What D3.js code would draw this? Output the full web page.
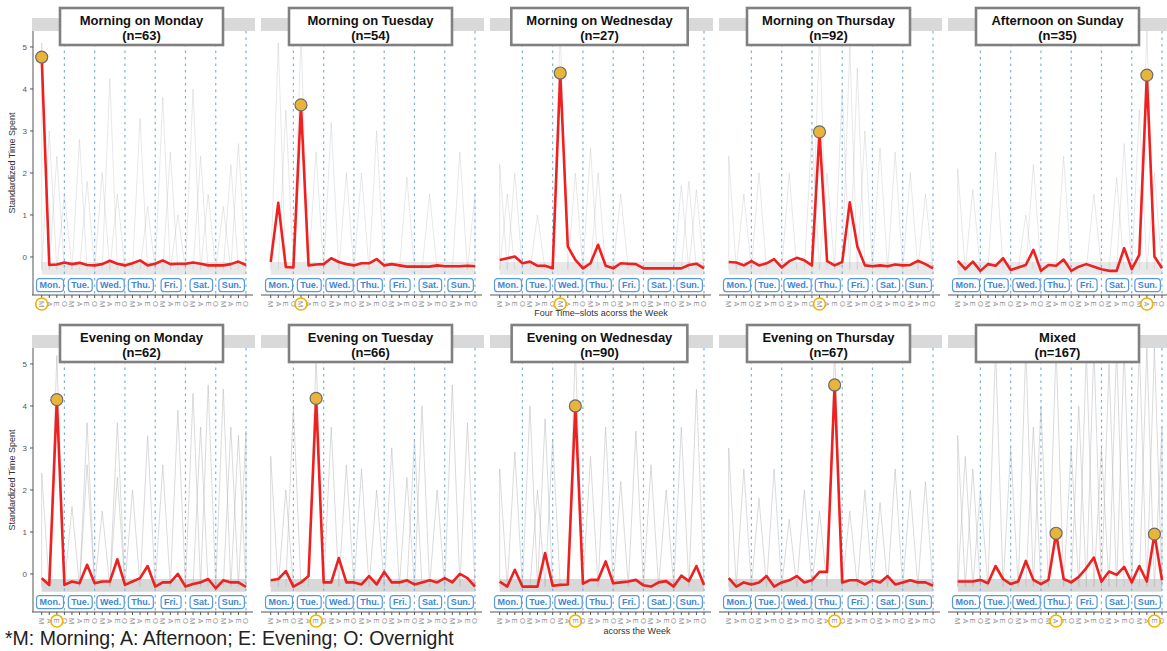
<!DOCTYPE html>
<html>
<head>
<meta charset="utf-8">
<script src="https://d3js.org/d3.v7.min.js"></script>
<style>
  body { margin: 0; background: #fff; }
  svg { font-family: "Liberation Sans", Arial, sans-serif; }
</style>
</head>
<body>
<svg id="chart" width="1167" height="651"></svg>
<script>
// ---- data ----
var slotLabels = ["M", "A", "E", "O"];
var dayLabels = ["Mon.", "Tue.", "Wed.", "Thu.", "Fri.", "Sat.", "Sun."];
var yTicks = [0, 1, 2, 3, 4, 5];

var panelTitles = ["Morning on Monday", "Morning on Tuesday", "Morning on Wednesday", "Morning on Thursday", "Afternoon on Sunday",
                   "Evening on Monday", "Evening on Tuesday", "Evening on Wednesday", "Evening on Thursday", "Mixed"];
var panelN = [63, 54, 27, 92, 35, 62, 66, 90, 67, 167];

// cluster means (red lines), 28 slots = 7 days x 4 slots
var morningMon = [4.76,-0.19,-0.18,-0.13,-0.17,-0.14,-0.19,-0.2,-0.17,-0.09,-0.16,-0.2,-0.15,-0.08,-0.2,-0.16,-0.08,-0.17,-0.16,-0.16,-0.13,-0.16,-0.2,-0.2,-0.2,-0.17,-0.11,-0.19];
var morningTue = [-0.12,1.29,-0.24,-0.25,3.62,-0.2,-0.18,-0.17,-0.03,-0.12,-0.17,-0.2,-0.15,-0.15,-0.05,-0.2,-0.17,-0.2,-0.23,-0.23,-0.23,-0.23,-0.2,-0.22,-0.22,-0.22,-0.21,-0.22];
var morningWed = [-0.07,-0.03,0.01,-0.15,-0.11,-0.21,-0.21,-0.27,4.38,0.25,-0.07,-0.27,-0.15,0.29,-0.21,-0.27,-0.15,-0.16,-0.17,-0.27,-0.27,-0.27,-0.27,-0.27,-0.27,-0.19,-0.16,-0.27];
var morningThu = [-0.12,-0.13,-0.2,-0.1,-0.2,-0.15,-0.05,-0.25,-0.1,-0.02,-0.08,-0.2,2.98,-0.1,-0.2,-0.12,1.3,0.25,-0.2,-0.22,-0.2,-0.22,-0.18,-0.2,-0.19,-0.09,-0.17,-0.27];
var afternoonSun = [-0.09,-0.29,-0.11,-0.33,-0.17,-0.21,-0.03,-0.31,-0.25,-0.19,0.17,-0.33,-0.19,-0.21,-0.06,-0.33,-0.23,-0.17,-0.23,-0.29,-0.33,-0.33,0.21,-0.29,0.05,4.33,0.01,-0.27];
var eveningMon = [-0.1,-0.26,4.15,-0.26,-0.18,-0.22,0.22,-0.22,-0.18,-0.18,0.35,-0.26,-0.18,-0.1,0.19,-0.3,-0.2,-0.2,0.0,-0.3,-0.24,-0.2,-0.12,-0.34,-0.15,-0.2,-0.2,-0.31];
var eveningTue = [-0.15,-0.12,0.07,-0.3,-0.2,-0.05,4.18,-0.2,-0.2,0.38,-0.2,-0.2,-0.25,-0.05,-0.25,0.05,-0.2,-0.2,-0.15,-0.25,-0.2,-0.15,-0.2,-0.1,-0.2,0.0,-0.1,-0.3];
var eveningWed = [-0.18,-0.3,0.1,-0.3,-0.3,-0.3,0.5,-0.28,-0.26,-0.25,4.0,-0.23,-0.14,-0.14,0.3,-0.22,-0.2,-0.18,-0.14,-0.27,-0.3,-0.2,-0.17,-0.3,-0.04,-0.17,0.19,-0.26];
var eveningThu = [-0.1,-0.3,-0.2,-0.25,-0.2,-0.05,-0.3,-0.2,-0.15,-0.05,-0.2,-0.15,0.05,0.05,4.5,-0.2,-0.15,-0.15,-0.25,-0.15,-0.2,-0.05,-0.25,-0.2,-0.15,-0.2,-0.2,-0.28];
var mixed = [-0.18,-0.18,-0.18,-0.14,-0.22,0.19,-0.12,-0.24,-0.18,0.31,-0.14,-0.24,-0.14,0.97,-0.12,-0.2,-0.07,0.14,0.39,-0.18,0.06,-0.02,0.17,-0.2,0.19,-0.18,0.95,-0.15];
var panelMeans = [morningMon, morningTue, morningWed, morningThu, afternoonSun, eveningMon, eveningTue, eveningWed, eveningThu, mixed];

// slots marked with a dot / circled tick
var peakSlots = [[0], [4], [8], [12], [25], [2], [6], [10], [14], [13, 26]];

// individual members: [slot, peak value] of the grey spikes
var memberSpikes = [
  [[0,5.1],[1,3.0],[2,2.4],[3,1.5],[5,2.8],[6,1.8],[8,2.0],[9,4.25],[10,1.5],[13,3.3],[14,1.2],[16,3.8],[17,2.5],[18,1.0],[20,4.0],[21,2.4],[22,1.5],[24,1.2],[25,2.2],[26,2.7]],
  [[1,5.1],[2,3.5],[4,5.3],[6,2.5],[8,3.2],[10,2.0],[12,2.0],[14,3.0],[18,1.9],[21,1.5],[25,2.5],[27,1.5]],
  [[0,2.2],[1,1.5],[2,2.0],[5,1.0],[8,5.4],[10,2.0],[12,2.6],[13,2.0],[16,1.5],[24,1.7],[25,1.8],[26,1.6]],
  [[0,2.4],[2,1.5],[4,2.0],[8,2.0],[11,3.0],[12,5.4],[13,2.0],[15,4.0],[16,5.0],[17,4.5],[18,3.0],[20,2.6],[22,2.5],[24,2.0],[26,1.5]],
  [[0,2.1],[2,1.6],[5,2.5],[9,1.0],[10,2.2],[14,2.4],[18,1.5],[21,1.9],[22,2.7],[24,3.5],[25,5.4],[26,2.0]],
  [[0,2.4],[2,5.2],[4,1.6],[6,2.6],[6,3.6],[8,1.5],[10,3.6],[10,2.3],[12,2.0],[14,3.3],[16,2.6],[18,3.9],[20,4.3],[21,3.5],[22,4.5],[24,4.4],[25,3.5],[26,3.3],[27,3.4]],
  [[0,2.8],[2,2.0],[3,4.0],[6,5.2],[8,3.5],[10,2.6],[12,2.5],[14,2.0],[16,3.0],[18,2.3],[19,3.2],[20,4.0],[22,2.0],[24,4.5],[26,3.6]],
  [[0,2.5],[2,2.9],[4,4.0],[5,2.0],[6,3.7],[7,3.2],[10,5.4],[12,2.8],[14,3.5],[16,2.2],[18,3.4],[20,2.6],[22,2.0],[24,3.5],[26,4.4]],
  [[0,3.0],[2,2.5],[4,1.8],[6,2.5],[8,1.3],[10,2.0],[12,1.5],[14,5.4],[16,1.5],[18,2.0],[20,1.7],[22,2.5],[24,2.0],[26,2.2]],
  [[0,3.3],[1,2.8],[2,2.5],[3,2.0],[5,5.4],[7,3.0],[9,5.4],[10,3.5],[11,4.0],[13,5.4],[15,3.0],[16,4.0],[17,5.3],[18,5.4],[19,3.0],[20,5.0],[21,5.4],[22,5.4],[24,5.4],[25,5.4],[26,5.4],[27,3.5]]
];
var memberBase = -0.3;

// ---- layout ----
var svg = d3.select("#chart");
var panelLeft = 32, panelStep = 229, panelW = 221;
var rowTop = 18, rowStep = 317;

var x = d3.scaleLinear().domain([0, 27]).range([9.7, 214]);
var y = d3.scaleLinear().domain([-0.905, 5.38]).range([277, 13]);

svg.append("defs").append("clipPath").attr("id", "plotclip")
  .append("rect").attr("x", 0).attr("y", 13).attr("width", panelW).attr("height", 264);

var line = d3.line().x(function(d) { return x(d[0]); }).y(function(d) { return y(d[1]); });

panelTitles.forEach(function(title, p) {
  var col = p % 5, row = Math.floor(p / 5);
  var g = svg.append("g")
    .attr("transform", "translate(" + (panelLeft + col * panelStep) + "," + (rowTop + row * rowStep) + ")");

  // facet strip
  g.append("rect").attr("x", 0).attr("y", 0).attr("width", panelW + 2).attr("height", 13).attr("fill", "#d9d9d9");

  var plot = g.append("g").attr("clip-path", "url(#plotclip)");

  // dense grey band of members near baseline
  plot.append("path")
    .datum(d3.range(28))
    .attr("d", d3.area().x(function(i) { return x(i); }).y0(y(-0.42)).y1(y(-0.12)))
    .attr("fill", row == 0 ? "#e8e8e8" : "#d8d8d8");

  // grey member spikes
  memberSpikes[p].forEach(function(s) {
    var pts = [[Math.max(0, s[0] - 1), memberBase], [s[0], s[1]], [Math.min(27, s[0] + 1), memberBase]];
    plot.append("path").attr("d", line(pts))
      .attr("fill", "none").attr("stroke", "#b5b5b5").attr("stroke-width", 0.9)
      .attr("stroke-opacity", row == 0 ? 0.35 : 0.55);
  });

  // dashed day separators
  d3.range(3, 28, 4).forEach(function(i) {
    plot.append("line").attr("x1", x(i)).attr("x2", x(i)).attr("y1", 13).attr("y2", 277)
      .attr("stroke", "#7fb0e0").attr("stroke-width", 1.2).attr("stroke-dasharray", "2.5,4");
  });

  // mean line
  var means = panelMeans[p].map(function(v, i) { return [i, v]; });
  plot.append("path").attr("d", line(means))
    .attr("fill", "none").attr("stroke", "#ee2020").attr("stroke-width", 2.6).attr("stroke-linejoin", "round");

  peakSlots[p].forEach(function(i) {
    g.append("circle").attr("cx", x(i)).attr("cy", y(panelMeans[p][i])).attr("r", 6)
      .attr("fill", "#e8b53a").attr("stroke", "#6b6b6b").attr("stroke-width", 1.2);
  });

  // day boxes
  dayLabels.forEach(function(d, k) {
    var dg = g.append("g").attr("transform", "translate(" + x(4 * k + 1.1) + "," + y(-0.67) + ")");
    var t = dg.append("text").attr("text-anchor", "middle").attr("dy", "0.35em")
      .attr("font-size", 9).attr("font-weight", "bold").attr("fill", "#3f86cf").text(d);
    var w = t.node().getComputedTextLength() + 6;
    dg.insert("rect", "text").attr("x", -w / 2).attr("y", -6.5).attr("width", w).attr("height", 13).attr("rx", 3)
      .attr("fill", "#fff").attr("stroke", "#5a9ad8").attr("stroke-width", 1.2);
  });

  // x axis
  g.append("line").attr("x1", 0).attr("x2", panelW).attr("y1", 277).attr("y2", 277)
    .attr("stroke", "#555").attr("stroke-width", 1);
  d3.range(28).forEach(function(i) {
    g.append("line").attr("x1", x(i)).attr("x2", x(i)).attr("y1", 277).attr("y2", 280).attr("stroke", "#555");
    g.append("text").attr("transform", "translate(" + x(i) + ",286) rotate(90)")
      .attr("text-anchor", "middle").attr("dy", "0.35em").attr("font-size", 7.5).attr("fill", "#999")
      .text(slotLabels[i % 4]);
  });
  peakSlots[p].forEach(function(i) {
    g.append("circle").attr("cx", x(i)).attr("cy", 286).attr("r", 6)
      .attr("fill", "none").attr("stroke", "#f0b400").attr("stroke-width", 1.6);
  });

  // y axis only in first column
  if (col == 0) {
    g.append("line").attr("x1", 1).attr("x2", 1).attr("y1", 13).attr("y2", 277).attr("stroke", "#555");
    yTicks.forEach(function(v) {
      g.append("line").attr("x1", -2).attr("x2", 1).attr("y1", y(v)).attr("y2", y(v)).attr("stroke", "#555");
      g.append("text").attr("x", -5).attr("y", y(v)).attr("dy", "0.35em").attr("text-anchor", "end")
        .attr("font-size", 8).attr("fill", "#555").text(v);
    });
    g.append("text").attr("transform", "translate(-17,145) rotate(-90)")
      .attr("text-anchor", "middle").attr("font-size", 9).attr("fill", "#333").text("Standardized Time Spent");
  }

  // title box
  var tg = g.append("g").attr("transform", "translate(" + (panelW / 2 - 1) + ",0)");
  var t1 = tg.append("text").attr("y", 2).attr("dy", "0.35em").attr("text-anchor", "middle")
    .attr("font-size", 13).attr("font-weight", "bold").attr("fill", "#111").text(title);
  tg.append("text").attr("y", 17).attr("dy", "0.35em").attr("text-anchor", "middle")
    .attr("font-size", 13).attr("font-weight", "bold").attr("fill", "#111").text("(n=" + panelN[p] + ")");
  var tw = Math.max(t1.node().getComputedTextLength() + 30, 163);
  tg.insert("rect", "text").attr("x", -tw / 2).attr("y", -10).attr("width", tw).attr("height", 37)
    .attr("fill", "#fff").attr("stroke", "#808080").attr("stroke-width", 2.6);
});

// axis titles and footnote
svg.append("text").attr("x", 601).attr("y", 313).attr("dy", "0.35em").attr("text-anchor", "middle")
  .attr("font-size", 9).attr("fill", "#333").text("Four Time\u2013slots acorss the Week");
svg.append("text").attr("x", 637).attr("y", 631).attr("dy", "0.35em").attr("text-anchor", "middle")
  .attr("font-size", 9).attr("fill", "#333").text("acorss the Week");
svg.append("text").attr("x", 5).attr("y", 645).attr("font-size", 19.5).attr("fill", "#222")
  .text("*M: Morning; A: Afternoon; E: Evening; O: Overnight");
</script>
</body>
</html>
